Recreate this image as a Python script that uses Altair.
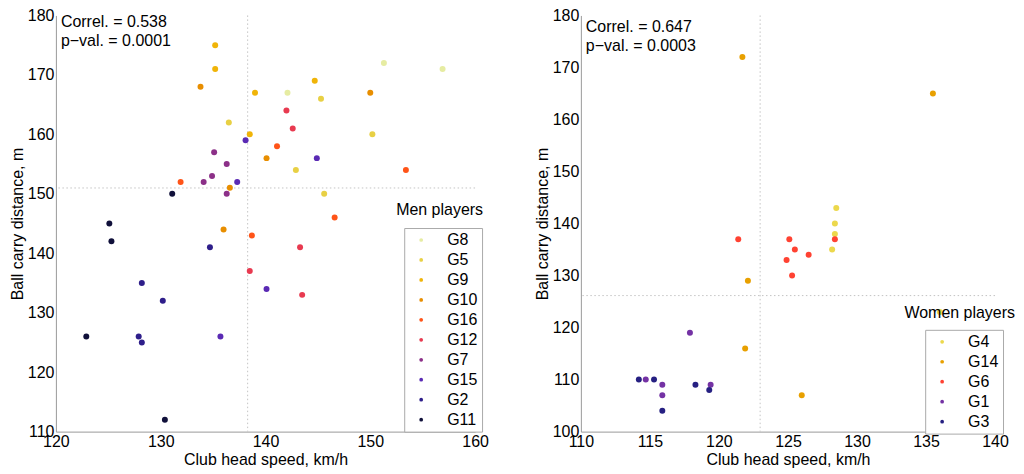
import pandas as pd
import altair as alt

# ------------------------------------------------------------------ Men players
men_group = ['G8', 'G8', 'G8',
             'G5', 'G5', 'G5', 'G5', 'G5',
             'G9', 'G9', 'G9', 'G9', 'G9',
             'G10', 'G10', 'G10', 'G10', 'G10',
             'G16', 'G16', 'G16', 'G16', 'G16',
             'G12', 'G12', 'G12', 'G12', 'G12',
             'G7', 'G7', 'G7', 'G7', 'G7',
             'G15', 'G15', 'G15', 'G15', 'G15',
             'G2', 'G2', 'G2', 'G2', 'G2',
             'G11', 'G11', 'G11', 'G11', 'G11']
men_speed = [142.1, 151.3, 156.9,
             136.5, 145.3, 150.2, 142.9, 145.6,
             135.2, 135.2, 139.0, 144.7, 138.5,
             133.8, 150.0, 140.1, 136.6, 136.0,
             141.1, 153.4, 131.9, 146.6, 138.7,
             142.0, 142.6, 143.3, 138.5, 143.5,
             135.1, 136.3, 134.9, 134.1, 136.3,
             138.1, 144.9, 137.3, 140.1, 135.7,
             134.7, 128.2, 130.2, 127.9, 128.2,
             131.1, 125.1, 125.3, 122.9, 130.4]
men_dist = [167, 172, 171,
            162, 166, 160, 154, 150,
            175, 171, 167, 169, 160,
            168, 167, 156, 151, 144,
            158, 154, 152, 146, 143,
            164, 161, 141, 137, 133,
            157, 155, 153, 152, 150,
            159, 156, 152, 134, 126,
            141, 135, 132, 126, 125,
            150, 145, 142, 126, 112]
men_order = ['G8', 'G5', 'G9', 'G10', 'G16', 'G12', 'G7', 'G15', 'G2', 'G11']
men_colors = ['#e6eca2', '#e8d044', '#f0b408', '#e88e00', '#ff5418',
              '#e83a50', '#8c3088', '#5a2ab4', '#2e1e8a', '#10103a']
men_stats = ['Correl. = 0.538', 'p\u2212val. = 0.0001']

# ------------------------------------------------------------------ Women players
women_group = ['G4', 'G4', 'G4', 'G4', 'G4',
               'G14', 'G14', 'G14', 'G14', 'G14',
               'G6', 'G6', 'G6', 'G6', 'G6', 'G6', 'G6',
               'G1', 'G1', 'G1', 'G1', 'G1',
               'G3', 'G3', 'G3', 'G3', 'G3']
women_speed = [128.5, 128.4, 128.4, 128.2, 136.0,
               121.7, 135.5, 122.1, 121.9, 126.0,
               121.4, 125.1, 128.4, 125.5, 126.5, 124.9, 125.3,
               117.9, 114.7, 115.9, 119.4, 115.9,
               114.2, 115.3, 118.3, 119.3, 115.9]
women_dist = [143, 140, 138, 135, 123,
              172, 165, 129, 116, 107,
              137, 137, 137, 135, 134, 133, 130,
              119, 110, 109, 109, 107,
              110, 110, 109, 108, 104]
women_order = ['G4', 'G14', 'G6', 'G1', 'G3']
women_colors = ['#ecd84c', '#e8a000', '#ff4232', '#7432a4', '#262082']
women_stats = ['Correl. = 0.647', 'p\u2212val. = 0.0003']

men = pd.DataFrame({'group': men_group, 'speed': men_speed, 'dist': men_dist})
women = pd.DataFrame({'group': women_group, 'speed': women_speed, 'dist': women_dist})
one_row = pd.DataFrame({'k': [0]})

FONT = 'Liberation Sans'


def panel(df, order, colors, xdom, xstep, ydom, stats, legend_name,
          width, height, leg_x, leg_y, name_x, name_y, text_y):
    x = alt.X('speed:Q', title='Club head speed, km/h',
              scale=alt.Scale(domain=xdom, nice=False, zero=False),
              axis=alt.Axis(values=list(range(xdom[0], xdom[1] + 1, xstep)),
                            labelFlush=False))
    y = alt.Y('dist:Q', title='Ball carry distance, m',
              scale=alt.Scale(domain=ydom, nice=False, zero=False),
              axis=alt.Axis(values=list(range(ydom[0], ydom[1] + 1, 10))))

    vrule = alt.Chart(df).mark_rule(color='#c4c4c4', strokeDash=[1.5, 2.5], strokeWidth=1).encode(
        x='mean(speed):Q'
    )
    hrule = alt.Chart(df).mark_rule(color='#c4c4c4', strokeDash=[1.5, 2.5], strokeWidth=1).encode(
        y='mean(dist):Q'
    )
    points = alt.Chart(df).mark_circle(size=36, opacity=1).encode(
        x=x,
        y=y,
        color=alt.Color('group:N', scale=alt.Scale(domain=order, range=colors),
                        legend=alt.Legend(orient='none', legendX=leg_x, legendY=leg_y,
                                          title=None, strokeColor='#aaaaaa',
                                          fillColor='white', padding=4,
                                          labelFont=FONT, labelFontSize=16,
                                          labelColor='black', symbolType='circle',
                                          symbolSize=14, symbolOffset=5,
                                          labelOffset=18, rowPadding=4)),
        tooltip=['group:N', 'speed:Q', 'dist:Q']
    )
    stat_text = alt.Chart(one_row).mark_text(text=stats, align='left', baseline='middle',
                                             font=FONT, fontSize=16, lineHeight=18.6,
                                             color='black').encode(
        x=alt.value(5), y=alt.value(text_y)
    )
    name_text = alt.Chart(one_row).mark_text(text=legend_name, align='right', baseline='middle',
                                             font=FONT, fontSize=16, color='black').encode(
        x=alt.value(name_x), y=alt.value(name_y)
    )
    return alt.layer(vrule, hrule, points, stat_text, name_text).properties(
        width=width, height=height
    )


left = panel(men, men_order, men_colors, [120, 160], 10, [110, 180], men_stats,
             'Men players', 420, 417, 349, 213, 428, 195, 7)
right = panel(women, women_order, women_colors, [110, 140], 5, [100, 180], women_stats,
              'Women players', 415, 417, 345, 315, 435, 298, 12)

chart = alt.hconcat(left, right, spacing=44).resolve_scale(
    color='independent', x='independent', y='independent'
).properties(
    padding={'left': 0, 'top': -2, 'right': 0, 'bottom': 0}
).configure_axis(
    labelFont=FONT, titleFont=FONT, labelFontSize=16, titleFontSize=16,
    titleFontWeight='normal', labelColor='black', titleColor='black',
    domainColor='#9a9a9a', grid=False, ticks=False, labelPadding=2, titlePadding=2
).configure_view(
    stroke='transparent'
)

chart.save("out.html", embed_options={"renderer": "svg", "actions": False})
